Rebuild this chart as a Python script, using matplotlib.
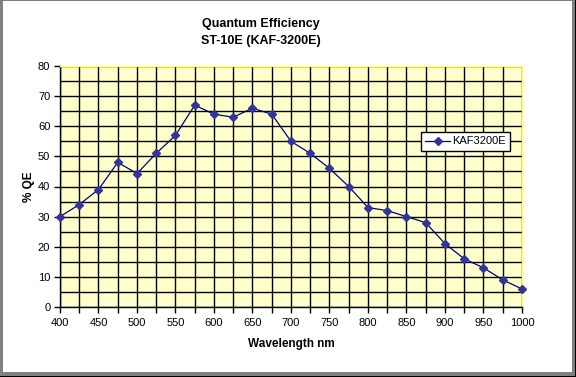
import matplotlib
matplotlib.use("Agg")
import matplotlib.pyplot as plt
from matplotlib.patches import Rectangle

wavelength = [400, 425, 450, 475, 500, 525, 550, 575, 600, 625, 650, 675, 700,
              725, 750, 775, 800, 825, 850, 875, 900, 925, 950, 975, 1000]
qe = [30, 34, 39, 48, 44.3, 51, 57, 67, 64, 63, 66, 64, 55,
      51, 46, 40, 33, 32, 30, 28, 21, 16, 13, 9, 6]
series_name = "KAF3200E"

plt.rcParams["font.family"] = ["Liberation Sans", "DejaVu Sans"]

fig = plt.figure(figsize=(5.76, 3.77), dpi=100)
W, H = 576, 377

# window-ish frame: gray band, darker edge at right/bottom
fig.patches.append(Rectangle((0, 0), 1, 1, transform=fig.transFigure,
                             facecolor="#808080", edgecolor="none", zorder=-3))
fig.patches.append(Rectangle((3 / W, 5 / H), (572 - 3) / W, (374 - 3) / H,
                             transform=fig.transFigure, facecolor="white",
                             edgecolor="none", zorder=-2))
fig.patches.append(Rectangle((574.5 / W, 0), 1.5 / W, 1, transform=fig.transFigure,
                             facecolor="black", edgecolor="none", zorder=-1))
fig.patches.append(Rectangle((0, 0), 1, 1.5 / H, transform=fig.transFigure,
                             facecolor="black", edgecolor="none", zorder=-1))

ax = fig.add_axes([60 / W, 1 - 307 / H, 462 / W, 241 / H])
ax.set_facecolor("#FFFFCC")

ax.plot(wavelength, qe, color="#000080", lw=0.9, marker="D", markersize=4.5,
        markerfacecolor="#333399", markeredgecolor="#333399", label=series_name,
        zorder=3, clip_on=False)

ax.set_xlim(400, 1000)
ax.set_ylim(0, 80)
ax.set_xticks(range(400, 1001, 50))
ax.set_xticks(range(400, 1001, 25), minor=True)
ax.set_yticks(range(0, 81, 10))
ax.set_yticks(range(0, 81, 5), minor=True)
ax.grid(True, which="both", color="black", lw=1.0, zorder=1)
ax.set_axisbelow(True)
ax.tick_params(axis="x", which="both", direction="out", length=4, width=1,
               labelsize=8, pad=4)
ax.tick_params(axis="y", which="major", direction="out", length=4, width=1,
               labelsize=8, pad=3)
ax.tick_params(axis="y", which="minor", length=0)

for side in ("left", "bottom"):
    ax.spines[side].set_color("black")
    ax.spines[side].set_linewidth(1)
for side in ("top", "right"):
    ax.spines[side].set_color("#FFFF80")
    ax.spines[side].set_linewidth(1)

ax.set_xlabel("Wavelength nm", fontsize=8.5, fontweight="bold", labelpad=7)
ax.set_ylabel("% QE", fontsize=8.5, fontweight="bold", labelpad=2)

fig.text(261 / W, 1 - 24 / H, "Quantum Efficiency", ha="center", va="center",
         fontsize=9, fontweight="bold")
fig.text(261 / W, 1 - 41 / H, "ST-10E (KAF-3200E)", ha="center", va="center",
         fontsize=9, fontweight="bold")

leg = ax.legend(loc="upper left", bbox_to_anchor=((421 - 60) / 462, (307 - 132) / 241),
                fontsize=8, frameon=True, fancybox=False, borderpad=0.4,
                handlelength=2.2, handletextpad=0.2, borderaxespad=0)
leg.get_frame().set_edgecolor("black")
leg.get_frame().set_linewidth(1)
leg.get_frame().set_alpha(1)

fig.savefig("out.png", dpi=100)
